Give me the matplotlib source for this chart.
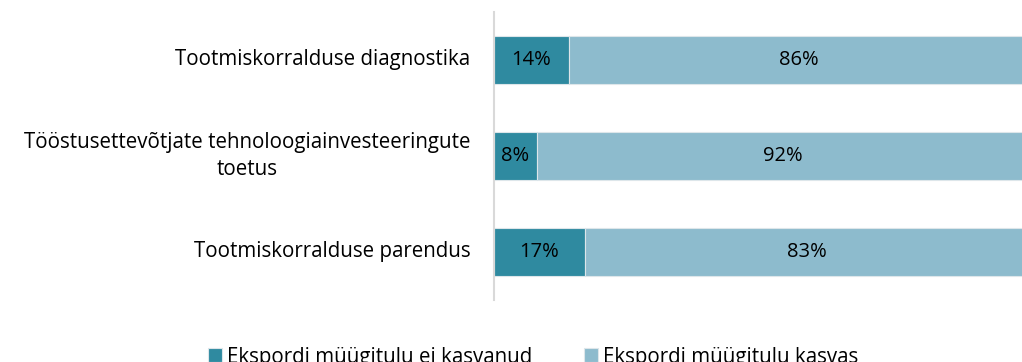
import numpy as np
import matplotlib.pyplot as plt

# Andmed
kategooriad = ["Tootmiskorralduse diagnostika",
               "Tööstusettevõtjate tehnoloogiainvesteeringute\ntoetus",
               "Tootmiskorralduse parendus"]
ei_kasvanud = np.array([14, 8, 17])
kasvas = np.array([86, 92, 83])
seeriad = ["Ekspordi müügitulu ei kasvanud", "Ekspordi müügitulu kasvas"]

plt.rcParams['font.family'] = ['Open Sans', 'DejaVu Sans']

tume = '#2f8aa0'
hele = '#8dbbcd'

fig = plt.figure(figsize=(10.22, 3.62), dpi=100)
ax = fig.add_axes([494 / 1022, 1 - 300 / 362, 535 / 1022, 288 / 362])

y = np.arange(len(kategooriad))
b1 = ax.barh(y, ei_kasvanud, height=0.51, color=tume, edgecolor='#dde6ea', linewidth=0.8,
             label=seeriad[0])
b2 = ax.barh(y, kasvas, left=ei_kasvanud, height=0.51, color=hele, edgecolor='#dde6ea',
             linewidth=0.8, label=seeriad[1])

# Protsendid segmentide keskele
for i in range(len(y)):
    ax.text(ei_kasvanud[i] / 2, y[i], f"{ei_kasvanud[i]}%", ha='center', va='center',
            fontsize=14.5, color='black')
    ax.text(ei_kasvanud[i] + kasvas[i] / 2, y[i], f"{kasvas[i]}%", ha='center', va='center',
            fontsize=14.5, color='black')

ax.set_xlim(0, 100)
ax.set_ylim(-0.5, 2.5)
ax.invert_yaxis()
ax.set_yticks(y)
ax.set_yticklabels([])
ax.tick_params(axis='y', length=0)
ax.set_xticks([])

# Kategooriate nimed telje vasakule, mitmerealised keskele joondatud
for yi, nimi in zip(y, kategooriad):
    ax.annotate(nimi, xy=(0, yi), xycoords=('axes fraction', 'data'),
                xytext=(-17, 0), textcoords='offset points',
                ha='right', va='center', multialignment='center',
                fontsize=14.8, linespacing=1.4)

for s in ['top', 'right', 'bottom']:
    ax.spines[s].set_visible(False)
ax.spines['left'].set_color('#d9d9d9')
ax.spines['left'].set_linewidth(1.5)

fig.legend(handles=[b1, b2], labels=seeriad, loc='center', bbox_to_anchor=(0.5215, 1 - 357 / 362),
           ncol=2, frameon=False, fontsize=14.8, handlelength=0.68, handleheight=0.68,
           handletextpad=0.25, columnspacing=2.5, borderpad=0)

fig.savefig('out.png', dpi=100)
